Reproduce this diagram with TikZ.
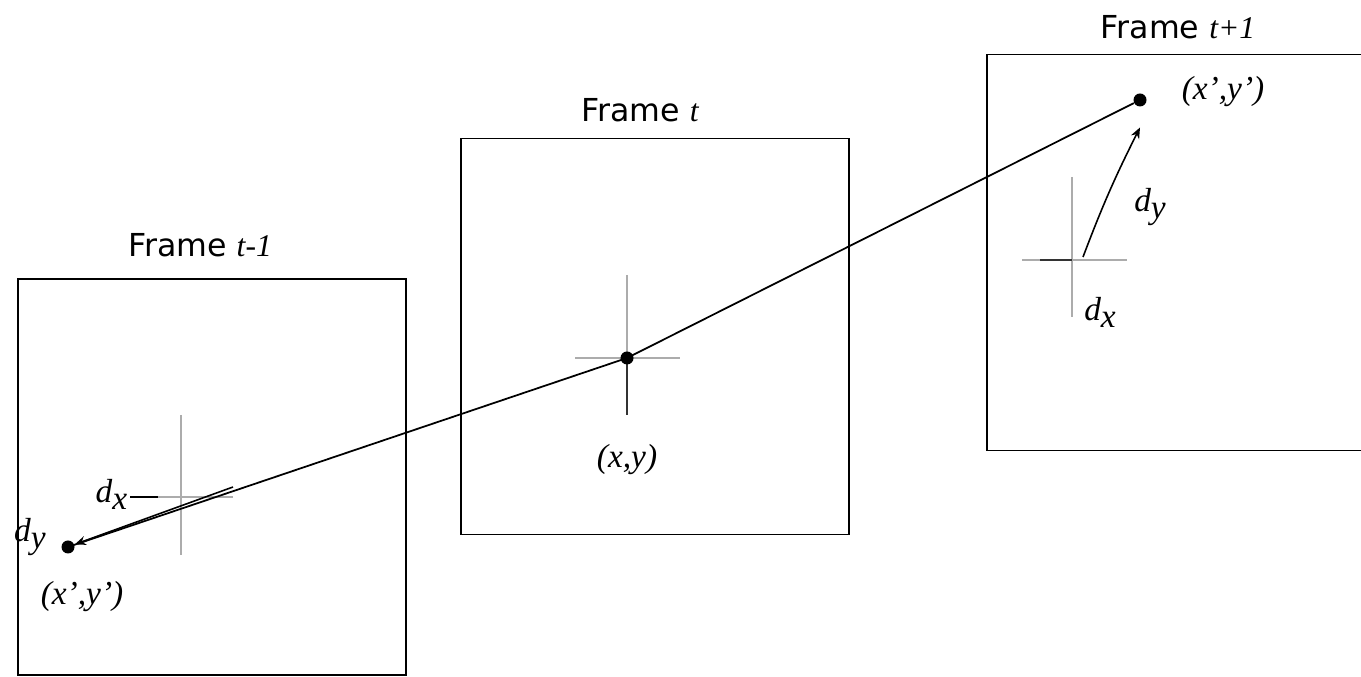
\documentclass[tikz,border=0pt]{standalone}
\usepackage{fontspec}
\setmainfont{Liberation Serif}
\newfontfamily\framefont{DejaVu Sans}
\usetikzlibrary{arrows.meta, positioning, calc}

\newcommand{\sub}[2]{\textit{#1}\raisebox{-0.45ex}{\textit{#2}}}
\newcommand{\tvar}[1]{{\rmfamily\itshape #1}}

\begin{document}
\begin{tikzpicture}[
    frame/.style={
        rectangle, draw, line width=1pt,
        minimum width=7.76cm, minimum height=7.92cm
    },
    ftitle/.style={font=\framefont\fontsize{18}{21}\selectfont, inner sep=0pt},
    lbl/.style={font=\fontsize{19}{22}\selectfont\itshape, inner sep=0pt},
    dot/.style={circle, fill=black, inner sep=0pt, minimum size=0.26cm},
    cross/.style={draw=gray!65, line width=1.2pt},
    arr/.style={-{Stealth[length=2.2mm, width=1.8mm]}, line width=0.9pt},
]
\useasboundingbox (0,0) rectangle (27.22,13.54);

% Frames
\node[frame] (prev) at (4.24, 4.00) {};
\node[frame] (curr) at (13.10, 6.81) {};
\node[frame] (next) at (23.62, 8.49) {};

\node[ftitle] (prevtitle) at (4.00, 8.64) {Frame \tvar{t-1}};
\node[ftitle] (currtitle) at (12.80, 11.34) {Frame \tvar{t}};
\node[ftitle] (nexttitle) at (23.56, 13.00) {Frame \tvar{t+1}};

% Crosses
\coordinate (lc) at (3.62, 3.60);
\draw[cross] (3.62, 5.24) -- (3.62, 2.44);
\draw[cross] (3.16, 3.60) -- (4.66, 3.60);
\draw[line width=1.2pt] (2.60, 3.60) -- (3.16, 3.60);

\draw[cross] (12.54, 8.04) -- (12.54, 6.38);
\draw[line width=1.2pt, black!80] (12.54, 6.38) -- (12.54, 5.24);
\draw[cross] (11.50, 6.38) -- (13.60, 6.38);

\coordinate (rc) at (21.44, 8.34);
\draw[cross] (21.44, 10.00) -- (21.44, 7.20);
\draw[cross] (20.44, 8.34) -- (22.54, 8.34);
\draw[line width=1.2pt, black!80] (20.80, 8.34) -- (21.44, 8.34);

% Points
\node[dot] (p1) at (1.36, 2.60) {};
\node[dot] (p2) at (12.54, 6.38) {};
\node[dot] (p3) at (22.80, 11.54) {};

% Trajectory
\draw[line width=1pt] (p1.center) -- (p2.center) -- (p3);

% Displacements
\coordinate (lend) at (4.66, 3.80);
\draw[arr] (lend) -- ([yshift=1.5pt]p1.east);
\coordinate (rstart) at (21.66, 8.40);
\draw[arr] (rstart) to[bend left=3] ([yshift=-0.55cm]p3.center);

% Labels
\node[lbl] (p1lbl) at (1.64, 1.60) {(x',y')};
\node[lbl] (p2lbl) at (12.54, 4.34) {(x,y)};
\node[lbl] (p3lbl) at (24.46, 11.70) {(x',y')};
\node[lbl, anchor=east] (ldx) at (2.55, 3.66) {\sub{d}{x}};
\node[lbl] (ldy) at (0.60, 2.80) {\sub{d}{y}};
\node[lbl] (rdy) at (23.00, 9.40) {\sub{d}{y}};
\node[lbl] (rdx) at (22.00, 7.30) {\sub{d}{x}};

\end{tikzpicture}
\end{document}
